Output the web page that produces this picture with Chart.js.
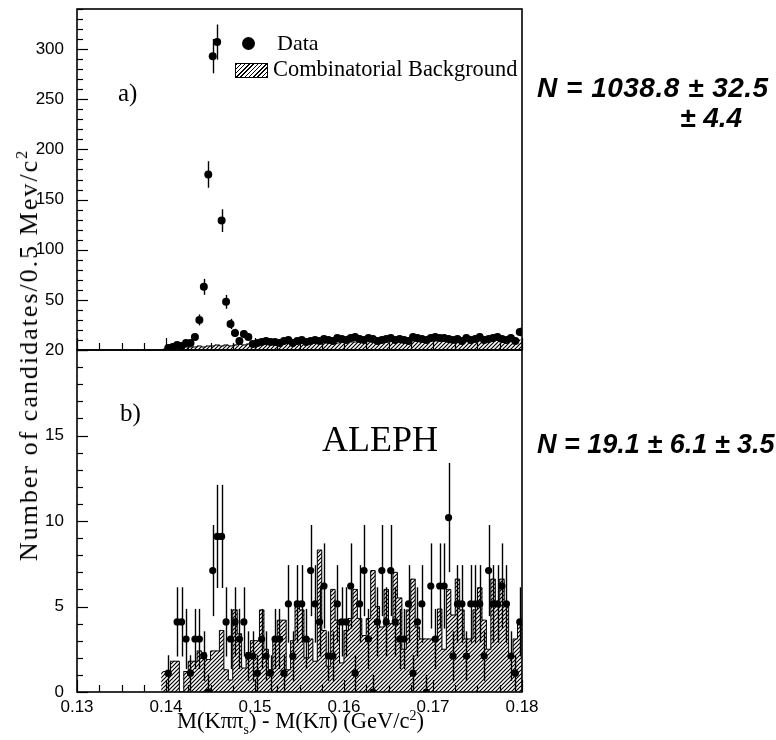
<!DOCTYPE html>
<html>
<head>
<meta charset="utf-8">
<script src="https://cdn.jsdelivr.net/npm/chart.js@4.4.0/dist/chart.umd.min.js"></script>
<style>
    body { margin: 0; background: #fff; width: 776px; height: 740px; position: relative; overflow: hidden; font-family: 'Liberation Serif', 'Times New Roman', serif; color: #000; }
    .box { position: absolute; left: 0; width: 776px; }
    #boxA { top: 0; height: 360px; }
    #boxB { top: 335px; height: 405px; }
    .txt { position: absolute; white-space: nowrap; line-height: 1; }
    .hand { font-family: 'Liberation Sans', Arial, sans-serif; font-style: italic; font-weight: bold; font-size: 28px; }
    sub, sup { font-size: 62%; line-height: 0; }
</style>
</head>
<body>
<div class="box" id="boxA"><canvas id="chartA" width="776" height="360"></canvas></div>
<div class="box" id="boxB"><canvas id="chartB" width="776" height="405"></canvas></div>

<!-- legende -->
<div class="txt" style="left:242px;top:37px;width:13px;height:13px;border-radius:50%;background:#000;"></div>
<div class="txt" style="left:277px;top:32px;font-size:22px;">Data</div>
<div class="txt" style="left:235px;top:63px;width:31px;height:13px;border:1px solid #000;background:repeating-linear-gradient(135deg,#000 0 1px,#fff 1px 3px);"></div>
<div class="txt" style="left:273px;top:58px;font-size:22.4px;">Combinatorial Background</div>

<div class="txt" style="left:118px;top:80px;font-size:25px;">a)</div>
<div class="txt" style="left:120px;top:400px;font-size:25px;">b)</div>
<div class="txt" style="left:322px;top:421px;font-size:36px;">ALEPH</div>

<!-- titres des axes -->
<div class="txt" style="left:177px;top:710px;font-size:22.5px;">M(K&pi;&pi;<sub>s</sub>) - M(K&pi;) (GeV/c<sup>2</sup>)</div>
<div class="txt" style="left:29px;top:355px;font-size:26px;letter-spacing:2px;transform:translate(-50%,-50%) rotate(-90deg);">Number of candidates/0.5 Mev/c<sup>2</sup></div>

<!-- notes manuscrites -->
<div class="txt hand" style="left:537px;top:74px;letter-spacing:0.5px;">N = 1038.8 ± 32.5</div>
<div class="txt hand" style="left:680px;top:104px;">± 4.4</div>
<div class="txt hand" style="left:537px;top:431px;font-size:27px;">N = 19.1 ± 6.1 ± 3.5</div>

<script>
// Histogrammes : bins de 0.5 MeV a partir de 0.1395 GeV/c2
const binStart = 0.1395;
const binWidth = 0.0005;

// a) toutes les candidates
const dataA = [
    null, 2, 3, 5, 4, 7, 7, 13, 30, 63,
    175, 293, 307, 129, 48, 26, 17, 9, 16, 13,
    6, 7, 8, 9, 8, 8, 7, 9, 10, 7,
    9, 10, 8, 9, 10, 9, 11, 10, 9, 12,
    11, 10, 12, 13, 11, 10, 12, 11, 9, 10,
    11, 12, 10, 11, 10, 9, 13, 12, 11, 10,
    12, 13, 12, 12, 11, 10, 11, 9, 12, 10,
    11, 13, 10, 11, 12, 13, 11, 10, 12, 9,
    18
];
const bkgA = [
    1, 2, 2, 3, 2, 3, 3, 3, 4, 3,
    4, 4, 5, 4, 5, 4, 5, 6, 5, 6,
    5, 6, 6, 7, 6, 7, 6, 7, 7, 6,
    7, 8, 7, 7, 8, 9, 7, 8, 8, 7,
    8, 9, 8, 8, 9, 8, 9, 8, 8, 9,
    8, 9, 9, 8, 9, 10, 9, 9, 8, 9,
    10, 9, 9, 10, 9, 10, 9, 10, 10, 9,
    10, 9, 10, 10, 9, 10, 10, 9, 10, 9,
    10
];

// b) selection
const dataB = [
    null, 1.1, null, 4.1, 4.1, 3.1, 1.1, 3.1, 3.1, 2.1,
    0, 7.1, 9.1, 9.1, 4.1, 3.1, 4.1, 3.1, 4.1, 2.1,
    2.1, 1.1, 3.1, 2.1, 1.1, 3.1, 3.1, 1.1, 5.15, 2.1,
    5.15, 5.15, 3.1, 7.1, 5.15, 4.1, 6.2, 2.1, 2.1, 5.15,
    4.1, 4.1, 6.2, 1.1, 5.15, 7.1, 3.1, 0, 4.1, 7.1,
    4.1, 7.1, 4.1, 3.1, 3.1, 5.15, 1.1, 4.1, 5.15, 0,
    6.2, 3.1, 6.2, 6.2, 10.2, 2.1, 5.15, 5.15, 2.1, 5.15,
    5.15, 5.15, 2.1, 7.1, 5.15, 5.15, 6.2, 5.15, 2.1, 1.1,
    4.1
];
const bkgB = [
    1.2, 1.2, 1.8, 1.8, 0, 1.2, 1.8, 1.8, 2.4, 2.3,
    1.9, 2.4, 2.4, 3.6, 1.3, 0.7, 4.8, 3.4, 1.4, 2.3,
    3.0, 3.0, 4.8, 2.5, 1.3, 3.0, 4.2, 4.2, 1.3, 3.0,
    5.3, 4.8, 2.0, 3.1, 1.8, 8.3, 3.6, 1.5, 6.0, 4.2,
    1.7, 3.6, 4.3, 6.0, 4.3, 3.3, 4.3, 7.1, 5.0, 3.8,
    6.0, 4.0, 7.0, 5.5, 2.5, 4.8, 6.6, 3.8, 3.1, 3.1,
    3.1, 3.1, 4.85, 2.5, 6.0, 4.5, 6.6, 4.8, 3.1, 3.1,
    4.8, 6.1, 4.2, 2.5, 6.6, 5.0, 6.6, 5.0, 2.0, 3.1,
    4.2
];

const yTicksA = [50, 100, 150, 200, 250, 300];
const yTicksB = [0, 5, 10, 15, 20];
const xTicks = [0.13, 0.14, 0.15, 0.16, 0.17, 0.18];

const binCenters = dataA.map((_, i) => +(binStart + (i + 0.5) * binWidth).toFixed(5));
const toPoints = arr => arr.map((v, i) => ({ x: binCenters[i], y: v }));

// motif hachure "////"
function makeHatch() {
    const c = document.createElement('canvas');
    c.width = 4; c.height = 4;
    const g = c.getContext('2d');
    g.fillStyle = '#fff';
    g.fillRect(0, 0, 4, 4);
    g.strokeStyle = '#000';
    g.lineWidth = 1.2;
    g.beginPath();
    g.moveTo(0, 4); g.lineTo(4, 0);
    g.moveTo(-1, 1); g.lineTo(1, -1);
    g.moveTo(3, 5); g.lineTo(5, 3);
    g.stroke();
    return g.createPattern(c, 'repeat');
}
const hatch = makeHatch();

// cadre, graduations internes et barres d'erreur
const frameTicks = {
    id: 'frameTicks',
    afterDatasetsDraw(chart, args, opts) {
        const { ctx, chartArea: a, scales: { x, y } } = chart;
        ctx.save();
        ctx.strokeStyle = '#000';

        // barres d'erreur poissoniennes
        ctx.lineWidth = 1.4;
        chart.data.datasets[0].data.forEach(p => {
            if (p.y === null) return;
            const err = p.y > 0 ? Math.sqrt(p.y) : 1;
            const px = Math.round(x.getPixelForValue(p.x)) + 0.5;
            ctx.beginPath();
            ctx.moveTo(px, Math.max(a.top, y.getPixelForValue(p.y + err)));
            ctx.lineTo(px, Math.min(a.bottom, y.getPixelForValue(p.y - err)));
            ctx.stroke();
        });

        ctx.lineWidth = 1.6;
        ctx.strokeRect(a.left, a.top, a.right - a.left, a.bottom - a.top);

        ctx.lineWidth = 1.2;
        const nY = Math.round((y.max - y.min) / opts.yMinor);
        for (let i = 0; i <= nY; i++) {
            const v = y.min + i * opts.yMinor;
            const major = Math.abs(v / opts.yMajor - Math.round(v / opts.yMajor)) < 1e-6;
            const py = Math.round(y.getPixelForValue(v)) + 0.5;
            ctx.beginPath();
            ctx.moveTo(a.left, py);
            ctx.lineTo(a.left + (major ? 11 : 6), py);
            ctx.stroke();
        }
        const nX = Math.round((x.max - x.min) / 0.0025);
        for (let i = 0; i <= nX; i++) {
            const v = x.min + i * 0.0025;
            const major = i % 4 === 0;
            const px = Math.round(x.getPixelForValue(v)) + 0.5;
            ctx.beginPath();
            ctx.moveTo(px, a.bottom);
            ctx.lineTo(px, a.bottom - (major ? 12 : 7));
            ctx.stroke();
        }
        ctx.restore();
    }
};

function histDatasets(data, bkg, radius) {
    return [
        { type: 'scatter', data: toPoints(data), pointRadius: radius, pointBackgroundColor: '#000', pointBorderWidth: 0, order: 0 },
        { type: 'line', data: toPoints(bkg), stepped: 'middle', borderColor: '#000', borderWidth: 1, pointRadius: 0, fill: false, order: 1 },
        { type: 'bar', data: toPoints(bkg), backgroundColor: hatch, borderWidth: 0, barPercentage: 1, categoryPercentage: 1, order: 2 }
    ];
}

const tickFont = { family: "'Liberation Sans', Arial, sans-serif", size: 17 };

// largeur fixe de l'axe y, sans marge automatique
function fixY(s) {
    s.width = 77;
    s.paddingTop = 0;
    s.paddingBottom = 0;
}

new Chart(document.getElementById('chartA'), {
    type: 'bar',
    data: { datasets: histDatasets(dataA, bkgA, 4) },
    options: {
        responsive: false,
        animation: false,
        layout: { padding: { top: 9, right: 254, bottom: 10, left: 0 } },
        plugins: {
            legend: { display: false },
            tooltip: { enabled: false },
            frameTicks: { yMinor: 10, yMajor: 50 }
        },
        scales: {
            x: { type: 'linear', min: 0.13, max: 0.18, offset: false, display: false },
            y: {
                min: 0, max: 340,
                afterFit: fixY,
                afterBuildTicks(s) { s.ticks = yTicksA.map(v => ({ value: v })); },
                grid: { display: false, drawTicks: false },
                border: { display: false },
                ticks: { font: tickFont, color: '#000', padding: 13 }
            }
        }
    },
    plugins: [frameTicks]
});

new Chart(document.getElementById('chartB'), {
    type: 'bar',
    data: { datasets: histDatasets(dataB, bkgB, 3.6) },
    options: {
        responsive: false,
        animation: false,
        layout: { padding: { top: 15, right: 254, bottom: 0, left: 0 } },
        plugins: {
            legend: { display: false },
            tooltip: { enabled: false },
            frameTicks: { yMinor: 1, yMajor: 5 }
        },
        scales: {
            x: {
                type: 'linear', min: 0.13, max: 0.18, offset: false,
                afterFit(s) { s.height = 48; s.paddingLeft = 0; s.paddingRight = 0; },
                afterBuildTicks(s) { s.ticks = xTicks.map(v => ({ value: v })); },
                grid: { display: false, drawTicks: false },
                border: { display: false },
                ticks: { font: tickFont, color: '#000', padding: 5, maxRotation: 0, callback: v => v.toFixed(2) }
            },
            y: {
                min: 0, max: 20,
                afterFit: fixY,
                afterBuildTicks(s) { s.ticks = yTicksB.map(v => ({ value: v })); },
                grid: { display: false, drawTicks: false },
                border: { display: false },
                ticks: { font: tickFont, color: '#000', padding: 13 }
            }
        }
    },
    plugins: [frameTicks]
});
</script>
</body>
</html>
